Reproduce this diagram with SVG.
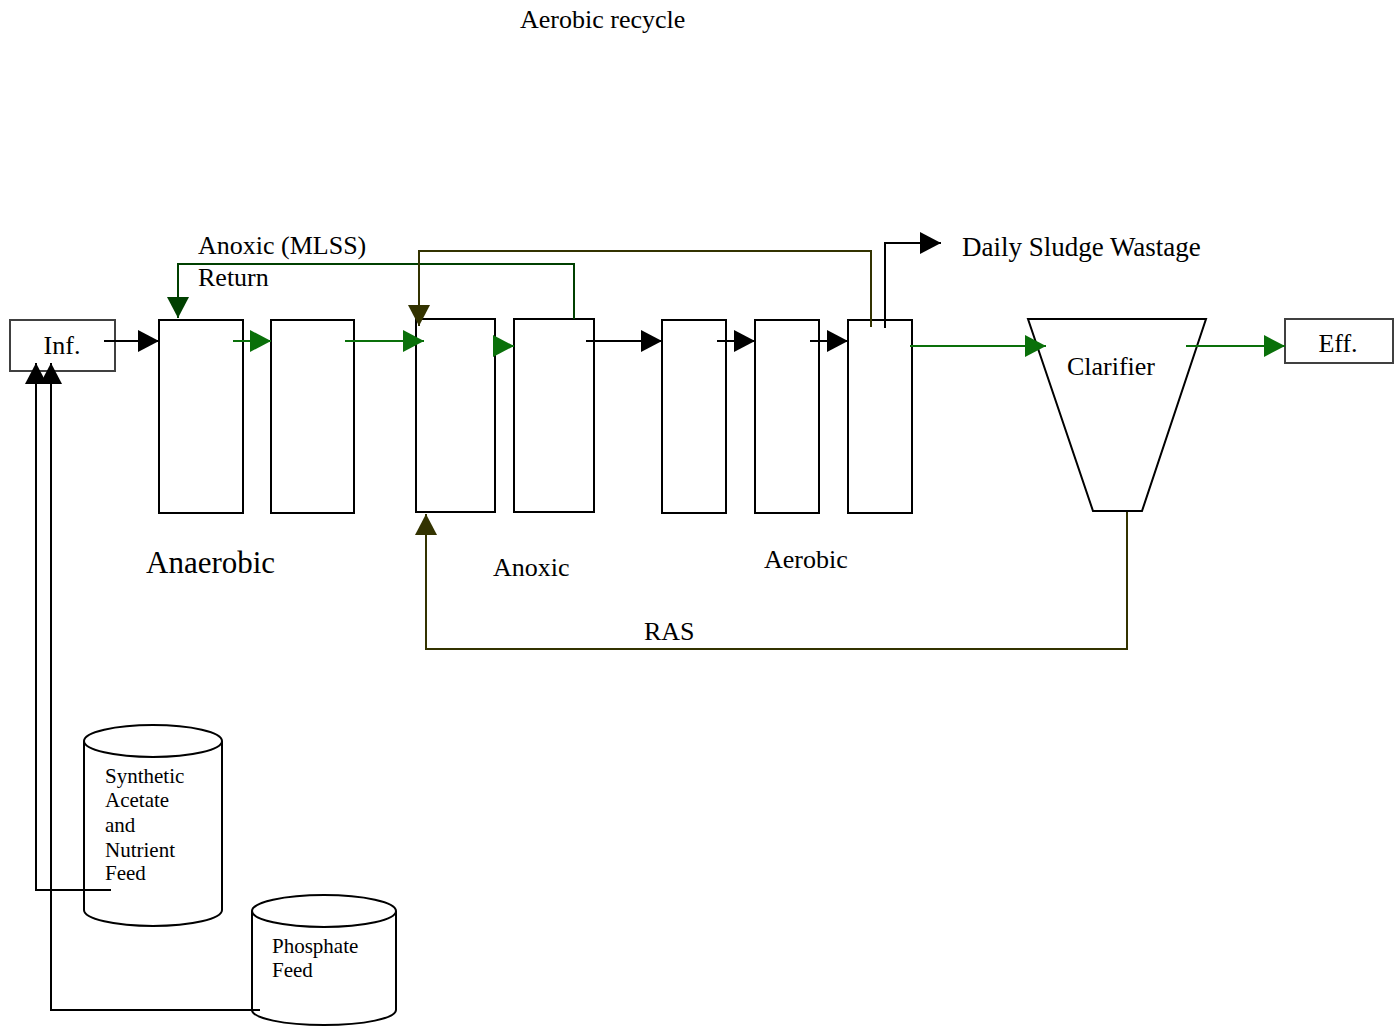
<svg xmlns="http://www.w3.org/2000/svg" width="1397" height="1027" viewBox="0 0 1397 1027">
<style>
text{font-family:"Liberation Serif","Times New Roman",serif;fill:#000}
.lbl{font-size:26px}
.small{font-size:21px}
.tank{fill:#fff;stroke:#000;stroke-width:2}
.io{fill:#fff;stroke:#404040;stroke-width:2}
.c{fill:none;stroke-width:2}
.k{stroke:#000}
.g{stroke:#0a700a}
.dg{stroke:#004000}
.ol{stroke:#333300}
</style>
<defs>
<marker id="ak" markerUnits="userSpaceOnUse" markerWidth="21" markerHeight="22" refX="21" refY="11" orient="auto"><path d="M0,0 L21,11 L0,22 z" fill="#000"/></marker>
<marker id="ag" markerUnits="userSpaceOnUse" markerWidth="21" markerHeight="22" refX="21" refY="11" orient="auto"><path d="M0,0 L21,11 L0,22 z" fill="#0a700a"/></marker>
<marker id="adg" markerUnits="userSpaceOnUse" markerWidth="21" markerHeight="22" refX="21" refY="11" orient="auto"><path d="M0,0 L21,11 L0,22 z" fill="#004000"/></marker>
<marker id="aol" markerUnits="userSpaceOnUse" markerWidth="21" markerHeight="22" refX="21" refY="11" orient="auto"><path d="M0,0 L21,11 L0,22 z" fill="#333300"/></marker>
</defs>
<rect width="1397" height="1027" fill="#fff"/>

<g id="inf"><rect class="io" x="10" y="320" width="105" height="51"/><text class="lbl" x="62" y="354" text-anchor="middle">Inf.</text></g>
<g id="anaerobic1"><rect class="tank" x="159" y="320" width="84" height="193"/></g>
<g id="anaerobic2"><rect class="tank" x="271" y="320" width="83" height="193"/></g>
<g id="anoxic1"><rect class="tank" x="416" y="319" width="79" height="193"/></g>
<g id="anoxic2"><rect class="tank" x="514" y="319" width="80" height="193"/></g>
<g id="aerobic1"><rect class="tank" x="662" y="320" width="64" height="193"/></g>
<g id="aerobic2"><rect class="tank" x="755" y="320" width="64" height="193"/></g>
<g id="aerobic3"><rect class="tank" x="848" y="320" width="64" height="193"/></g>
<g id="clarifier"><path class="tank" d="M1028,319 L1206,319 L1142,511 L1093,511 Z"/><text class="lbl" x="1111" y="375" text-anchor="middle">Clarifier</text></g>
<g id="eff"><rect class="io" x="1285" y="319" width="108" height="44"/><text class="lbl" x="1338" y="352" text-anchor="middle">Eff.</text></g>
<g id="feed1">
<path class="tank" d="M84,741 L84,910 A69,16 0 0 0 222,910 L222,741"/>
<ellipse class="tank" cx="153" cy="741" rx="69" ry="16"/>
<text class="small" x="105" y="783">Synthetic</text>
<text class="small" x="105" y="807">Acetate</text>
<text class="small" x="105" y="832">and</text>
<text class="small" x="105" y="857">Nutrient</text>
<text class="small" x="105" y="880">Feed</text>
</g>
<g id="feed2">
<path class="tank" d="M252,911 L252,1010 A72,15 0 0 0 396,1010 L396,911"/>
<ellipse class="tank" cx="324" cy="911" rx="72" ry="16"/>
<text class="small" x="272" y="953">Phosphate</text>
<text class="small" x="272" y="977">Feed</text>
</g>

<g id="connectors">
<line class="c k" x1="104" y1="341" x2="159" y2="341" marker-end="url(#ak)"/>
<line class="c g" x1="233" y1="341" x2="271" y2="341" marker-end="url(#ag)"/>
<line class="c g" x1="345" y1="341" x2="424" y2="341" marker-end="url(#ag)"/>
<line class="c g" x1="494" y1="346" x2="514" y2="346" marker-end="url(#ag)"/>
<line class="c k" x1="586" y1="341" x2="662" y2="341" marker-end="url(#ak)"/>
<line class="c k" x1="717" y1="341" x2="755" y2="341" marker-end="url(#ak)"/>
<line class="c k" x1="810" y1="341" x2="848" y2="341" marker-end="url(#ak)"/>
<line class="c g" x1="910" y1="346" x2="1046" y2="346" marker-end="url(#ag)"/>
<line class="c g" x1="1186" y1="346" x2="1285" y2="346" marker-end="url(#ag)"/>
<polyline class="c dg" points="574,319 574,264 178,264 178,318" marker-end="url(#adg)"/>
<polyline class="c ol" points="871,327 871,251 419,251 419,326" marker-end="url(#aol)"/>
<polyline class="c k" points="885,328 885,243 941,243" marker-end="url(#ak)"/>
<polyline class="c ol" points="1127,512 1127,649 426,649 426,514" marker-end="url(#aol)"/>
<polyline class="c k" points="111,890 36,890 36,363" marker-end="url(#ak)"/>
<polyline class="c k" points="260,1010 51,1010 51,363" marker-end="url(#ak)"/>
</g>

<text class="lbl" x="520" y="28">Aerobic recycle</text>
<text class="lbl" x="198" y="254">Anoxic (MLSS)</text>
<text class="lbl" x="198" y="286">Return</text>
<text x="962" y="256" style="font-size:27px">Daily Sludge Wastage</text>
<text x="146" y="573" style="font-size:31px">Anaerobic</text>
<text class="lbl" x="493" y="576">Anoxic</text>
<text class="lbl" x="764" y="568">Aerobic</text>
<text class="lbl" x="644" y="640">RAS</text>
</svg>
